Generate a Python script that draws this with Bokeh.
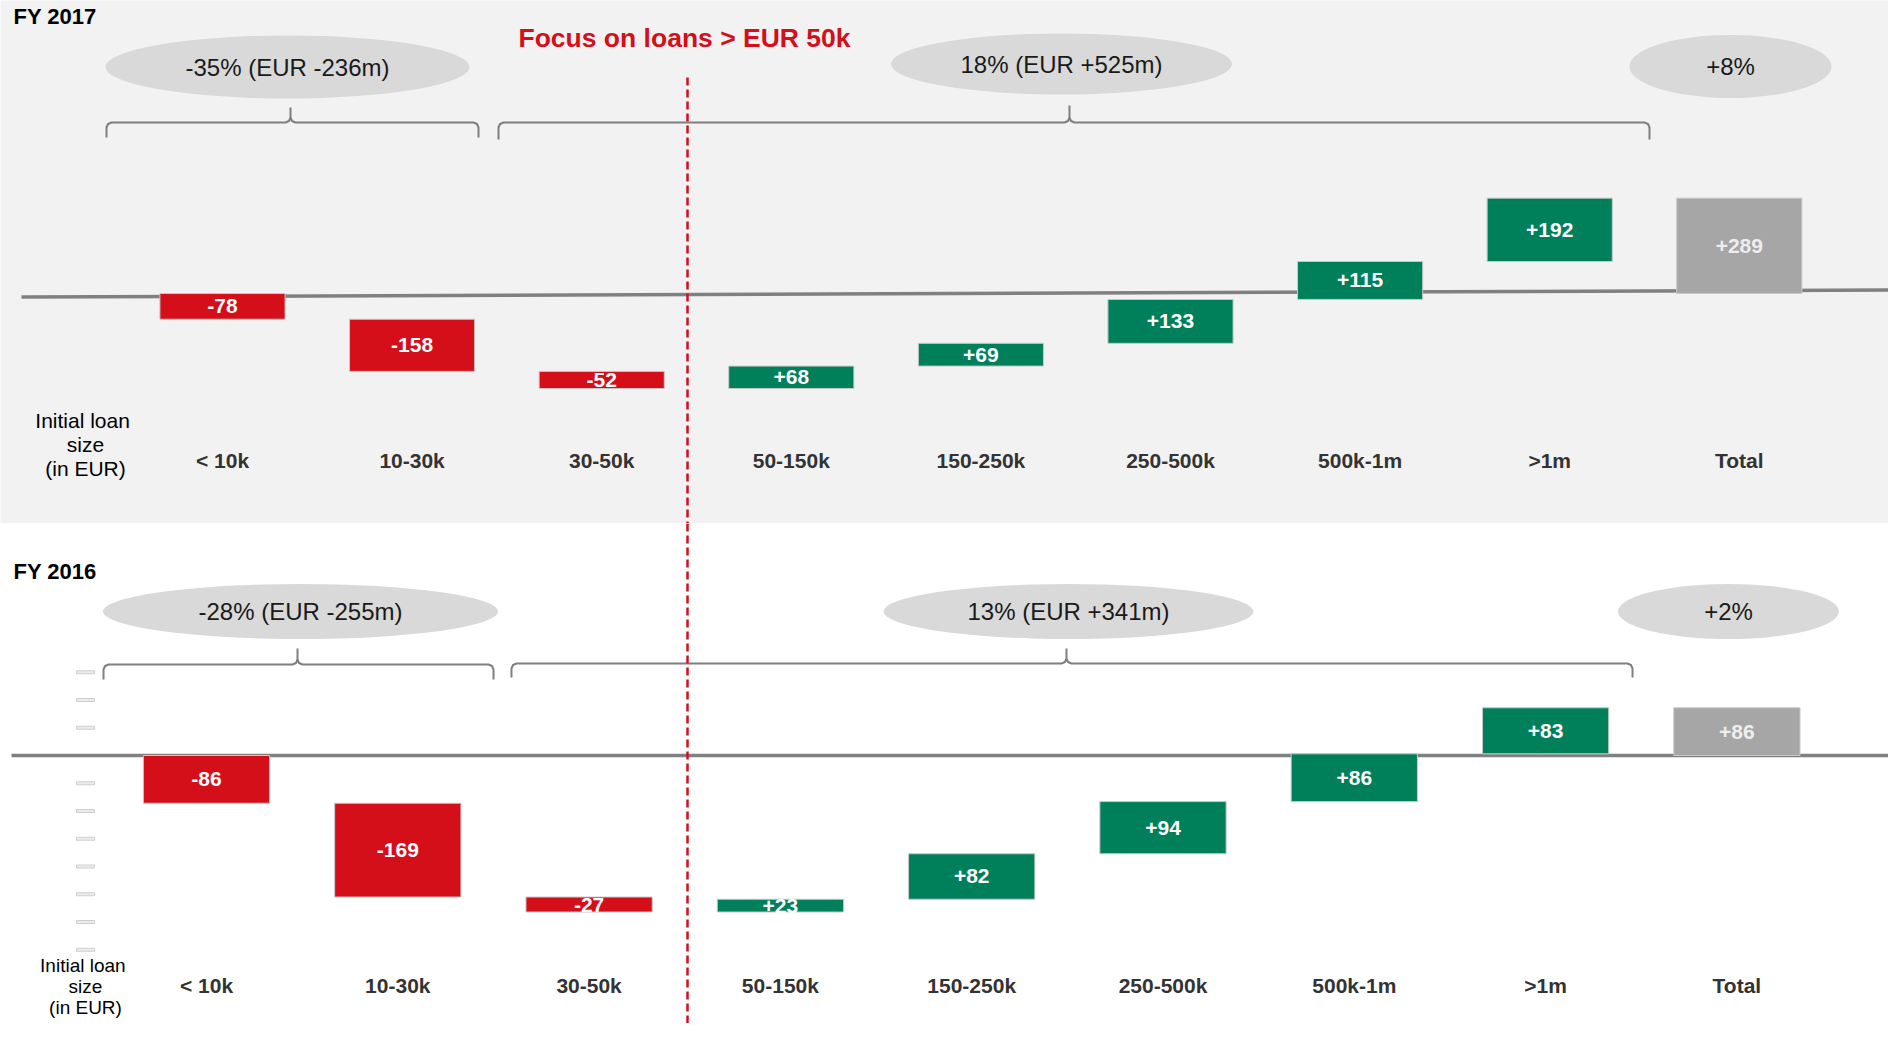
import numpy as np
from bokeh.plotting import figure
from bokeh.models import ColumnDataSource, Range1d
from bokeh.layouts import column
from bokeh.embed import file_html
from bokeh.resources import INLINE
from bokeh.core.properties import value

# ---------------- data ----------------
categories = ["< 10k", "10-30k", "30-50k", "50-150k", "150-250k",
              "250-500k", "500k-1m", ">1m", "Total"]
changes_2017 = [-78, -158, -52, 68, 69, 133, 115, 192]
changes_2016 = [-86, -169, -27, 23, 82, 94, 86, 83]
group_labels_2017 = ["-35% (EUR -236m)", "18% (EUR +525m)", "+8%"]
group_labels_2016 = ["-28% (EUR -255m)", "13% (EUR +341m)", "+2%"]
panel_titles = ["FY 2017", "FY 2016"]
axis_title_lines = ["Initial  loan", "size", "(in EUR)"]
focus_label = "Focus on loans > EUR 50k"
tick_values_2016 = [150, 100, 50, -50, -100, -150, -200, -250, -300, -350]

# ---------------- styles ----------------
RED = "#d40f19"
GREEN = "#007f5b"
GREY_BAR = "#a6a6a6"
LINE_GREY = "#808080"
BRACE_GREY = "#7f7f7f"
ELLIPSE = "#d9d9d9"
FONT = value("Liberation Sans")

W = 1888          # page width available (window minus margins)
TOP_H = 523       # height of the grey FY 2017 panel
TOTAL_H = 1023    # page height available


def make_panel(changes, group_labels, title, ref_top, ref_bot, bg, x0, dx, y0, scale,
               baseline_pts, ellipses, braces, cat_y, title_y, axis_y, dash_top,
               axis_font="21px"):
    xd = lambda px: (px - x0) / dx
    yd = lambda py: (y0 - py) / scale

    p = figure(width=W, height=ref_bot - ref_top, output_backend="svg",
               toolbar_location=None,
               x_range=Range1d(xd(0), xd(W)), y_range=Range1d(yd(ref_bot), yd(ref_top)),
               min_border=0)
    p.axis.visible = False
    p.grid.visible = False
    p.outline_line_color = None
    p.background_fill_color = bg
    p.border_fill_color = bg

    vals = np.array(changes, dtype=float)
    cum = np.cumsum(vals)
    starts = np.concatenate([[0.0], cum[:-1]])
    total = cum[-1]
    bottoms = np.concatenate([np.minimum(starts, cum), [min(0.0, total)]])
    tops = np.concatenate([np.maximum(starts, cum), [max(0.0, total)]])
    all_vals = list(changes) + [int(total)]
    colors = [RED if v < 0 else GREEN for v in changes] + [GREY_BAR]
    label_colors = ["white"] * len(changes) + ["#eeeeee"]
    idx = np.arange(len(categories))
    src = ColumnDataSource(dict(x=idx, bottom=bottoms, top=tops, color=colors,
                                label=[f"{int(v):+d}" for v in all_vals],
                                ymid=(bottoms + tops) / 2, lc=label_colors,
                                cat=categories))

    # baseline
    (bx0, by0), (bx1, by1) = baseline_pts
    p.segment(x0=[xd(bx0)], y0=[yd(by0)], x1=[xd(bx1)], y1=[yd(by1)],
              line_color=LINE_GREY, line_width=3.5)

    p.vbar(x="x", bottom="bottom", top="top", width=0.66, fill_color="color",
           line_color="#c8c8c8", line_width=1, source=src)
    p.text(x="x", y="ymid", text="label", text_color="lc", text_align="center",
           text_baseline="middle", text_font=FONT, text_font_style="bold",
           text_font_size="21px", source=src)

    # category labels
    p.text(x="x", y=yd(cat_y), text="cat", text_color="#333333", text_align="center",
           text_baseline="middle", text_font=FONT, text_font_style="bold",
           text_font_size="21px", source=src)

    # axis title
    p.text(x=[xd(85)] * 3, y=[yd(v) for v in axis_y], text=axis_title_lines,
           text_color="black", text_align="center", text_baseline="middle",
           text_font=FONT, text_font_size=axis_font)

    # panel title
    p.text(x=[xd(13)], y=[yd(title_y)], text=[title], text_color="black",
           text_align="left", text_baseline="middle", text_font=FONT,
           text_font_style="bold", text_font_size="22px")

    # ellipses with group labels
    ex = [xd(e[0]) for e in ellipses]
    ey = [yd(e[1]) for e in ellipses]
    p.ellipse(x=ex, y=ey, width=[e[2] for e in ellipses],
              height=[e[3] for e in ellipses], width_units="screen",
              height_units="screen", fill_color=ELLIPSE, line_color=None)
    p.text(x=ex, y=ey, text=group_labels, text_color="#1a1a1a", text_align="center",
           text_baseline="middle", text_font=FONT, text_font_size="24px")

    # braces
    xs, ys = [], []
    for (xl, xr, xm, yh, yend, ytip) in braces:
        r = 5
        pts = [(xl, yend), (xl, yh + r), (xl + 1.5, yh + 1.5), (xl + r, yh),
               (xm - r, yh), (xm - 1.5, yh - 1.5), (xm, yh - r), (xm, ytip),
               (xm, yh - r), (xm + 1.5, yh - 1.5), (xm + r, yh),
               (xr - r, yh), (xr - 1.5, yh + 1.5), (xr, yh + r), (xr, yend)]
        xs.append([xd(a) for a, b in pts])
        ys.append([yd(b) for a, b in pts])
    p.multi_line(xs=xs, ys=ys, line_color=BRACE_GREY, line_width=2)

    # red dashed focus line
    p.segment(x0=[xd(687)], y0=[yd(dash_top)], x1=[xd(687)], y1=[yd(ref_bot)],
              line_color=RED, line_width=2.5, line_dash="8 4")
    return p, xd, yd


p1, xd1, yd1 = make_panel(
    changes_2017, group_labels_2017, panel_titles[0], 0, TOP_H, "#f2f2f2",
    x0=222, dx=189.6, y0=293, scale=0.33,
    baseline_pts=((21, 296.5), (1898, 289.5)),
    ellipses=[(287, 66.5, 364, 63), (1061, 63.5, 341, 61), (1730, 66, 202, 63)],
    braces=[(106, 478, 290, 122, 137, 107), (498, 1649, 1069, 122, 139, 105)],
    cat_y=460, title_y=16, axis_y=[420, 444, 468], dash_top=77)

p1.text(x=[xd1(684)], y=[yd1(37)], text=[focus_label], text_color=RED,
        text_align="center", text_baseline="middle", text_font=FONT,
        text_font_style="bold", text_font_size="26.5px")

p2, xd2, yd2 = make_panel(
    changes_2016, group_labels_2016, panel_titles[1], TOP_H, TOTAL_H, "white",
    x0=206, dx=191.3, y0=755, scale=0.555,
    baseline_pts=((11, 755), (1898, 755)),
    ellipses=[(300, 611, 395, 55), (1068, 611, 370, 55), (1728, 611, 221, 55)],
    braces=[(103, 493, 297, 664, 679, 648), (511, 1632, 1066, 663, 677, 648)],
    cat_y=985, title_y=571, axis_y=[965, 986, 1007], dash_top=523,
    axis_font="19px")

# faint y-axis tick marks of the lower panel
p2.rect(x=[xd2(85)] * len(tick_values_2016), y=tick_values_2016, width=18, height=3,
        width_units="screen", height_units="screen", fill_color="#ebebeb",
        line_color="#cfcfcf", line_width=1)

layout = column(p1, p2, spacing=0)
open("out.html", "w").write(file_html(layout, INLINE))
